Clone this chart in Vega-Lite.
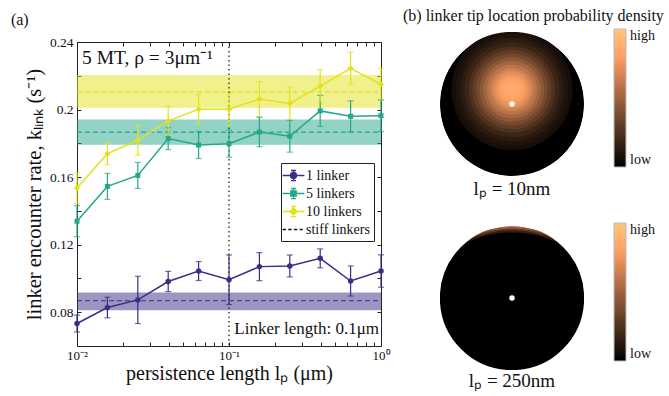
{
  "$schema": "https://vega.github.io/schema/vega-lite/v6.json",
  "padding": {"left": 10, "top": 8, "right": 0, "bottom": 0},
  "background": "white",
  "config": {
    "view": {"stroke": null},
    "font": "Liberation Serif",
    "title": {"font": "Liberation Serif", "fontWeight": "normal", "color": "#111111"},
    "axis": {"labelFont": "Liberation Serif", "titleFont": "Liberation Serif", "labelColor": "#111111", "titleColor": "#111111", "titleFontWeight": "normal", "grid": false},
    "legend": {"labelFont": "Liberation Serif", "labelColor": "#111111"},
    "text": {"font": "Liberation Serif", "color": "#111111"}
  },
  "datasets": {
    "rates": [
      {"series": "1 linker", "lp": 0.01, "k": 0.0733, "lo": 0.0683, "hi": 0.0783},
      {"series": "1 linker", "lp": 0.01585, "k": 0.0828, "lo": 0.0767, "hi": 0.0889},
      {"series": "1 linker", "lp": 0.02512, "k": 0.0873, "lo": 0.0733, "hi": 0.1013},
      {"series": "1 linker", "lp": 0.03981, "k": 0.0982, "lo": 0.0922, "hi": 0.1042},
      {"series": "1 linker", "lp": 0.0631, "k": 0.1044, "lo": 0.0988, "hi": 0.11},
      {"series": "1 linker", "lp": 0.1, "k": 0.0992, "lo": 0.0845, "hi": 0.1139},
      {"series": "1 linker", "lp": 0.1585, "k": 0.107, "lo": 0.0987, "hi": 0.1153},
      {"series": "1 linker", "lp": 0.2512, "k": 0.1074, "lo": 0.1009, "hi": 0.1139},
      {"series": "1 linker", "lp": 0.3981, "k": 0.1119, "lo": 0.1063, "hi": 0.1175},
      {"series": "1 linker", "lp": 0.631, "k": 0.0985, "lo": 0.0896, "hi": 0.1074},
      {"series": "1 linker", "lp": 1, "k": 0.1044, "lo": 0.0948, "hi": 0.114},
      {"series": "5 linkers", "lp": 0.01, "k": 0.1339, "lo": 0.1247, "hi": 0.1431},
      {"series": "5 linkers", "lp": 0.01585, "k": 0.1545, "lo": 0.1468, "hi": 0.1622},
      {"series": "5 linkers", "lp": 0.02512, "k": 0.161, "lo": 0.1533, "hi": 0.1687},
      {"series": "5 linkers", "lp": 0.03981, "k": 0.1828, "lo": 0.1763, "hi": 0.1893},
      {"series": "5 linkers", "lp": 0.0631, "k": 0.179, "lo": 0.171, "hi": 0.187},
      {"series": "5 linkers", "lp": 0.1, "k": 0.1798, "lo": 0.1718, "hi": 0.1878},
      {"series": "5 linkers", "lp": 0.1585, "k": 0.1867, "lo": 0.178, "hi": 0.1954},
      {"series": "5 linkers", "lp": 0.2512, "k": 0.1842, "lo": 0.1748, "hi": 0.1936},
      {"series": "5 linkers", "lp": 0.3981, "k": 0.1992, "lo": 0.19, "hi": 0.2084},
      {"series": "5 linkers", "lp": 0.631, "k": 0.196, "lo": 0.1868, "hi": 0.2052},
      {"series": "5 linkers", "lp": 1, "k": 0.1964, "lo": 0.187, "hi": 0.2058},
      {"series": "10 linkers", "lp": 0.01, "k": 0.1535, "lo": 0.1445, "hi": 0.1625},
      {"series": "10 linkers", "lp": 0.01585, "k": 0.1739, "lo": 0.1674, "hi": 0.1804},
      {"series": "10 linkers", "lp": 0.02512, "k": 0.1818, "lo": 0.1729, "hi": 0.1907},
      {"series": "10 linkers", "lp": 0.03981, "k": 0.1933, "lo": 0.1847, "hi": 0.2019},
      {"series": "10 linkers", "lp": 0.0631, "k": 0.2002, "lo": 0.1914, "hi": 0.209},
      {"series": "10 linkers", "lp": 0.1, "k": 0.2002, "lo": 0.1912, "hi": 0.2092},
      {"series": "10 linkers", "lp": 0.1585, "k": 0.2062, "lo": 0.1958, "hi": 0.2166},
      {"series": "10 linkers", "lp": 0.2512, "k": 0.2036, "lo": 0.1939, "hi": 0.2133},
      {"series": "10 linkers", "lp": 0.3981, "k": 0.2139, "lo": 0.2043, "hi": 0.2235},
      {"series": "10 linkers", "lp": 0.631, "k": 0.2244, "lo": 0.2148, "hi": 0.234},
      {"series": "10 linkers", "lp": 1, "k": 0.2149, "lo": 0.2053, "hi": 0.2245}
    ],
    "bands": [
      {"series": "1 linker", "lo": 0.0812, "hi": 0.0917, "mid": 0.0868},
      {"series": "5 linkers", "lo": 0.1792, "hi": 0.1941, "mid": 0.1866},
      {"series": "10 linkers", "lo": 0.201, "hi": 0.2204, "mid": 0.2105}
    ],
    "disc10": [
      {"cx": 0, "cy": 0, "d": 2, "v": 0},
      {"cx": 0, "cy": 0.2, "d": 1.68, "v": 0.068},
      {"cx": 0, "cy": 0.2, "d": 1.56, "v": 0.098},
      {"cx": 0, "cy": 0.2, "d": 1.44, "v": 0.136},
      {"cx": 0, "cy": 0.2, "d": 1.32, "v": 0.186},
      {"cx": 0, "cy": 0.2, "d": 1.2, "v": 0.246},
      {"cx": 0, "cy": 0.2, "d": 1.1, "v": 0.304},
      {"cx": 0, "cy": 0.2, "d": 1.0, "v": 0.369},
      {"cx": 0, "cy": 0.2, "d": 0.9, "v": 0.438},
      {"cx": 0, "cy": 0.2, "d": 0.8, "v": 0.512},
      {"cx": 0, "cy": 0.2, "d": 0.7, "v": 0.585},
      {"cx": 0, "cy": 0.2, "d": 0.6, "v": 0.65},
      {"cx": 0, "cy": 0.2, "d": 0.52, "v": 0.705},
      {"cx": 0, "cy": 0.2, "d": 0.44, "v": 0.754},
      {"cx": 0, "cy": 0.2, "d": 0.36, "v": 0.797},
      {"cx": 0, "cy": 0.2, "d": 0.28, "v": 0.832},
      {"cx": 0, "cy": 0.2, "d": 0.2, "v": 0.859},
      {"cx": 0, "cy": 0.2, "d": 0.12, "v": 0.875}
    ],
    "disc250": [
      {"cx": 0, "cy": 0, "d": 2, "v": 0.62},
      {"cx": 0, "cy": -0.6, "d": 3.17, "v": 0.46},
      {"cx": 0, "cy": -0.6, "d": 3.13, "v": 0.3},
      {"cx": 0, "cy": -0.6, "d": 3.08, "v": 0.15},
      {"cx": 0, "cy": -0.6, "d": 3.02, "v": 0}
    ]
  },
  "resolve": {
    "scale": {"color": "independent", "size": "independent", "fill": "independent", "stroke": "independent", "shape": "independent"},
    "legend": {"color": "independent", "fill": "independent", "stroke": "independent", "shape": "independent"}
  },
  "spacing": 13,
  "hconcat": [
    {
      "title": {"text": "(a)", "anchor": "start", "frame": "bounds", "fontSize": 16, "offset": 4, "dx": -14},
      "spacing": 2,
      "resolve": {
        "scale": {"color": "independent", "fill": "independent", "stroke": "independent", "shape": "independent"},
        "legend": {"color": "independent", "fill": "independent", "stroke": "independent", "shape": "independent"}
      },
      "vconcat": [
        {
          "width": 304,
          "height": 1,
          "data": {"values": [{}]},
          "mark": {"type": "point", "opacity": 0, "size": 1},
          "encoding": {}
        },
        {
          "width": 304,
          "height": 304,
          "resolve": {"axis": {"x": "independent", "y": "independent"}},
          "layer": [
            {
              "data": {"name": "bands"},
              "mark": {"type": "rect", "opacity": 0.5},
              "encoding": {
                "x": {"datum": 0.01, "type": "quantitative", "scale": {"type": "log", "domain": [0.01, 1], "nice": false},
                  "axis": {"orient": "bottom", "values": [0.01, 0.02, 0.03, 0.04, 0.05, 0.06, 0.07, 0.08, 0.09, 0.1, 0.2, 0.3, 0.4, 0.5, 0.6, 0.7, 0.8, 0.9, 1],
                    "labelExpr": "datum.value == 0.01 ? '10⁻²' : datum.value == 0.1 ? '10⁻¹' : datum.value == 1 ? '10⁰' : ''",
                    "title": "persistence length lₚ (μm)", "tickSize": -4, "labelPadding": 7, "labelFlush": false, "labelOverlap": false,
                    "domainColor": "#222222", "tickColor": "#222222", "labelFontSize": 13, "titleFontSize": 20, "titlePadding": 1}},
                "x2": {"datum": 1},
                "y": {"field": "lo", "type": "quantitative", "scale": {"domain": [0.06, 0.24], "nice": false, "zero": false},
                  "axis": {"orient": "left", "values": [0.08, 0.1, 0.12, 0.14, 0.16, 0.18, 0.2, 0.22, 0.24],
                    "labelExpr": "round(datum.value * 100) % 4 == 0 ? format(datum.value, '.2~f') : ''",
                    "title": "linker encounter rate, kₗᵢₙₖ (s⁻¹)", "tickSize": -4, "labelPadding": 8, "labelOverlap": false, "labelFlush": false,
                    "domainColor": "#222222", "tickColor": "#222222", "labelFontSize": 13.5, "titleFontSize": 20.5, "titlePadding": 4.5}},
                "y2": {"field": "hi"},
                "color": {"field": "series", "type": "nominal", "scale": {"domain": ["1 linker", "5 linkers", "10 linkers"], "range": ["#382f86", "#26a78b", "#e2e21c"]}, "legend": null}
              }
            },
            {
              "data": {"name": "bands"},
              "mark": {"type": "rule", "strokeDash": [5, 3], "strokeWidth": 1.2},
              "encoding": {
                "x": {"datum": 0.01, "type": "quantitative", "axis": null},
                "x2": {"datum": 1},
                "y": {"field": "mid", "type": "quantitative", "axis": null},
                "color": {"field": "series", "type": "nominal", "legend": null}
              }
            },
            {
              "data": {"values": [{}]},
              "mark": {"type": "rule", "strokeDash": [1.5, 3], "strokeWidth": 1.3, "color": "#222222"},
              "encoding": {
                "x": {"datum": 0.1, "type": "quantitative", "axis": null}
              }
            },
            {
              "data": {"name": "rates"},
              "mark": {"type": "errorbar", "ticks": {"size": 6, "thickness": 1.2}, "rule": {"strokeWidth": 1.2}},
              "encoding": {
                "x": {"field": "lp", "type": "quantitative", "axis": null},
                "y": {"field": "lo", "type": "quantitative", "axis": null},
                "y2": {"field": "hi"},
                "color": {"field": "series", "type": "nominal", "legend": null}
              }
            },
            {
              "data": {"name": "rates"},
              "mark": {"type": "line", "strokeWidth": 1.5},
              "encoding": {
                "x": {"field": "lp", "type": "quantitative", "axis": null},
                "y": {"field": "k", "type": "quantitative", "axis": null},
                "color": {"field": "series", "type": "nominal", "legend": null}
              }
            },
            {
              "data": {"name": "rates"},
              "transform": [{"filter": "datum.series == '1 linker'"}],
              "mark": {"type": "point", "shape": "circle", "filled": true, "opacity": 1, "size": 30},
              "encoding": {
                "x": {"field": "lp", "type": "quantitative", "axis": null},
                "y": {"field": "k", "type": "quantitative", "axis": null},
                "color": {"field": "series", "type": "nominal", "legend": null}
              }
            },
            {
              "data": {"name": "rates"},
              "transform": [{"filter": "datum.series == '5 linkers'"}],
              "mark": {"type": "point", "shape": "square", "filled": true, "opacity": 1, "size": 25},
              "encoding": {
                "x": {"field": "lp", "type": "quantitative", "axis": null},
                "y": {"field": "k", "type": "quantitative", "axis": null},
                "color": {"field": "series", "type": "nominal", "legend": null}
              }
            },
            {
              "data": {"name": "rates"},
              "transform": [{"filter": "datum.series == '10 linkers'"}],
              "mark": {"type": "point", "shape": "diamond", "filled": true, "opacity": 1, "size": 40},
              "encoding": {
                "x": {"field": "lp", "type": "quantitative", "axis": null},
                "y": {"field": "k", "type": "quantitative", "axis": null},
                "color": {"field": "series", "type": "nominal", "legend": null}
              }
            },
            {
              "data": {"name": "bands"},
              "transform": [{"filter": "false"}],
              "mark": {"type": "point", "filled": true, "opacity": 1, "strokeWidth": 1.3},
              "encoding": {
                "x": {"datum": 0.1, "type": "quantitative", "axis": null},
                "y": {"datum": 0.1, "type": "quantitative", "axis": null},
                "fill": {"field": "series", "type": "nominal",
                  "scale": {"domain": ["1 linker", "5 linkers", "10 linkers", "stiff linkers"], "range": ["#382f86", "#26a78b", "#e2e21c", "#111111"]},
                  "legend": {"title": null, "orient": "none", "legendX": 204, "legendY": 121, "strokeColor": "#222222", "fillColor": "white", "padding": 4, "rowPadding": 1, "labelFontSize": 14, "labelOffset": 4, "symbolSize": 225, "symbolStrokeWidth": 1.3}},
                "stroke": {"field": "series", "type": "nominal",
                  "scale": {"domain": ["1 linker", "5 linkers", "10 linkers", "stiff linkers"], "range": ["#382f86", "#26a78b", "#e2e21c", "#111111"]},
                  "legend": {"title": null, "orient": "none", "legendX": 204, "legendY": 121, "strokeColor": "#222222", "fillColor": "white", "padding": 4, "rowPadding": 1, "labelFontSize": 14, "labelOffset": 4, "symbolSize": 225, "symbolStrokeWidth": 1.3}},
                "shape": {"field": "series", "type": "nominal",
                  "scale": {"domain": ["1 linker", "5 linkers", "10 linkers", "stiff linkers"], "range": [
                    "M-1.45,0H1.45M0,-0.67V0.67M-0.33,-0.67H0.33M-0.33,0.67H0.33M0.4,0A0.4,0.4,0,1,1,-0.4,0A0.4,0.4,0,1,1,0.4,0Z",
                    "M-1.45,0H1.45M0,-0.67V0.67M-0.33,-0.67H0.33M-0.33,0.67H0.33M-0.36,-0.36H0.36V0.36H-0.36Z",
                    "M-1.45,0H1.45M0,-0.67V0.67M-0.33,-0.67H0.33M-0.33,0.67H0.33M0,-0.48L0.48,0L0,0.48L-0.48,0Z",
                    "M-1.45,0H-1.0M-0.7,0H-0.25M0.05,0H0.5M0.8,0H1.25"]},
                  "legend": {"title": null, "orient": "none", "legendX": 204, "legendY": 121, "strokeColor": "#222222", "fillColor": "white", "padding": 4, "rowPadding": 1, "labelFontSize": 14, "labelOffset": 4, "symbolSize": 225, "symbolStrokeWidth": 1.3}}
              }
            },
            {
              "data": {"values": [{}]},
              "mark": {"type": "text", "align": "left", "baseline": "middle", "fontSize": 19.5},
              "encoding": {
                "x": {"datum": 0.0108, "type": "quantitative", "axis": null},
                "y": {"datum": 0.2305, "type": "quantitative", "axis": null},
                "text": {"value": "5 MT, ρ = 3μm⁻¹"}
              }
            },
            {
              "data": {"values": [{}]},
              "mark": {"type": "text", "align": "right", "baseline": "middle", "fontSize": 17},
              "encoding": {
                "x": {"datum": 0.97, "type": "quantitative", "axis": null},
                "y": {"datum": 0.0701, "type": "quantitative", "axis": null},
                "text": {"value": "Linker length: 0.1μm"}
              }
            },
            {
              "data": {"values": [{}]},
              "mark": {"type": "point", "opacity": 0},
              "encoding": {
                "x": {"datum": 0.1, "type": "quantitative",
                  "axis": {"orient": "top", "values": [0.01, 0.02, 0.03, 0.04, 0.05, 0.06, 0.07, 0.08, 0.09, 0.1, 0.2, 0.3, 0.4, 0.5, 0.6, 0.7, 0.8, 0.9, 1], "labels": false, "title": null, "tickSize": -4, "domainColor": "#222222", "tickColor": "#222222"}},
                "y": {"datum": 0.1, "type": "quantitative",
                  "axis": {"orient": "right", "values": [0.08, 0.1, 0.12, 0.14, 0.16, 0.18, 0.2, 0.22, 0.24], "labels": false, "title": null, "tickSize": -4, "domainColor": "#222222", "tickColor": "#222222"}}
              }
            }
          ]
        }
      ]
    },
    {
      "title": {"text": "(b)  linker tip location probability density", "anchor": "start", "frame": "group", "fontSize": 16, "dx": -37, "offset": 5},
      "spacing": 24,
      "resolve": {"scale": {"color": "independent", "size": "independent"}, "legend": {"color": "independent"}},
      "vconcat": [
        {
          "width": 144,
          "height": 144,
          "title": {"text": "lₚ = 10nm", "orient": "bottom", "fontSize": 19, "offset": 4},
          "layer": [
            {
              "data": {"name": "disc10"},
              "mark": {"type": "point", "shape": "circle", "filled": true, "opacity": 1, "strokeWidth": 0, "clip": true},
              "encoding": {
                "x": {"field": "cx", "type": "quantitative", "scale": {"domain": [-1, 1], "nice": false}, "axis": null},
                "y": {"field": "cy", "type": "quantitative", "scale": {"domain": [-1, 1], "nice": false}, "axis": null},
                "size": {"field": "d", "type": "quantitative", "scale": {"type": "pow", "exponent": 2, "domain": [0, 2], "range": [0, 20736]}, "legend": null},
                "color": {"field": "v", "type": "quantitative", "scale": {"domain": [0, 0.8, 1], "range": ["#000000", "#ff9f65", "#ffc77f"], "interpolate": "rgb"},
                  "legend": {"type": "gradient", "title": null, "orient": "none", "legendX": 174, "legendY": -3, "direction": "vertical", "gradientLength": 138, "gradientThickness": 12, "values": [0, 1], "labelExpr": "datum.value == 1 ? 'high' : 'low'", "labelFontSize": 14, "labelOffset": 4, "gradientStrokeColor": "#bbbbbb", "gradientStrokeWidth": 1}}
              }
            },
            {
              "data": {"values": [{}]},
              "mark": {"type": "point", "shape": "circle", "filled": true, "color": "white", "opacity": 1, "size": 30},
              "encoding": {
                "x": {"datum": 0, "type": "quantitative"},
                "y": {"datum": 0, "type": "quantitative"}
              }
            },
            {
              "data": {"values": [{}]},
              "mark": {"type": "point", "shape": "circle", "filled": false, "color": "white", "strokeWidth": 30, "opacity": 1, "size": 30360, "clip": true},
              "encoding": {
                "x": {"datum": 0, "type": "quantitative"},
                "y": {"datum": 0, "type": "quantitative"}
              }
            }
          ]
        },
        {
          "width": 144,
          "height": 144,
          "title": {"text": "lₚ = 250nm", "orient": "bottom", "fontSize": 19, "offset": 2},
          "layer": [
            {
              "data": {"name": "disc250"},
              "mark": {"type": "point", "shape": "circle", "filled": true, "opacity": 1, "strokeWidth": 0, "clip": true},
              "encoding": {
                "x": {"field": "cx", "type": "quantitative", "scale": {"domain": [-1, 1], "nice": false}, "axis": null},
                "y": {"field": "cy", "type": "quantitative", "scale": {"domain": [-1, 1], "nice": false}, "axis": null},
                "size": {"field": "d", "type": "quantitative", "scale": {"type": "pow", "exponent": 2, "domain": [0, 2], "range": [0, 20736]}, "legend": null},
                "color": {"field": "v", "type": "quantitative", "scale": {"domain": [0, 0.8, 1], "range": ["#000000", "#ff9f65", "#ffc77f"], "interpolate": "rgb"},
                  "legend": {"type": "gradient", "title": null, "orient": "none", "legendX": 174, "legendY": -3, "direction": "vertical", "gradientLength": 138, "gradientThickness": 12, "values": [0, 1], "labelExpr": "datum.value == 1 ? 'high' : 'low'", "labelFontSize": 14, "labelOffset": 4, "gradientStrokeColor": "#bbbbbb", "gradientStrokeWidth": 1}}
              }
            },
            {
              "data": {"values": [{}]},
              "mark": {"type": "point", "shape": "circle", "filled": true, "color": "white", "opacity": 1, "size": 30},
              "encoding": {
                "x": {"datum": 0, "type": "quantitative"},
                "y": {"datum": 0, "type": "quantitative"}
              }
            },
            {
              "data": {"values": [{}]},
              "mark": {"type": "point", "shape": "circle", "filled": false, "color": "white", "strokeWidth": 30, "opacity": 1, "size": 30360, "clip": true},
              "encoding": {
                "x": {"datum": 0, "type": "quantitative"},
                "y": {"datum": 0, "type": "quantitative"}
              }
            }
          ]
        }
      ]
    }
  ]
}
